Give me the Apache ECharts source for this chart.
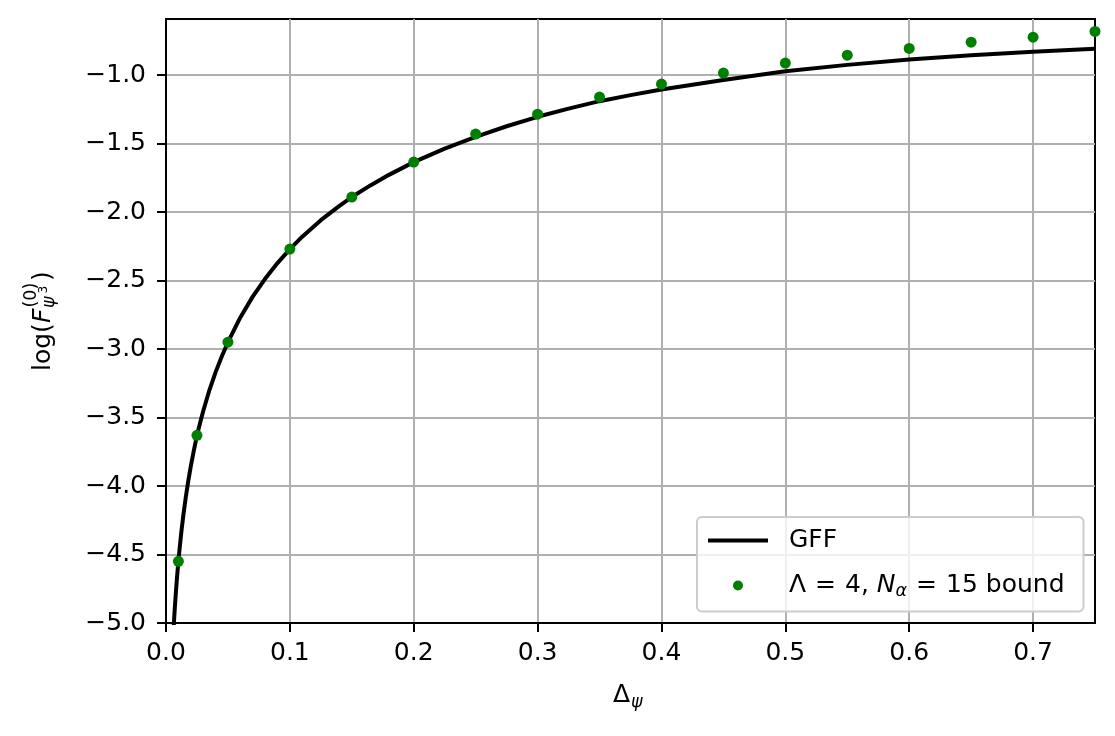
<!DOCTYPE html>
<html>
<head>
<meta charset="utf-8">
<script src="https://cdn.jsdelivr.net/npm/echarts@6/dist/echarts.min.js"></script>
<style>
html,body{margin:0;padding:0;background:#fff;}
#chart{width:1115px;height:736px;}
</style>
</head>
<body>
<div id="chart"></div>
<script>
// GFF curve
const gffX = [0.006,0.0065,0.007,0.008,0.009,0.01,0.011,0.0125,0.014,0.016,0.018,0.02,0.0225,0.025,0.0275,0.03,0.035,0.04,0.045,0.05,0.06,0.07,0.08,0.09,0.1,0.11,0.125,0.14,0.15,0.165,0.18,0.2,0.225,0.25,0.275,0.3,0.325,0.35,0.375,0.4,0.45,0.5,0.55,0.6,0.65,0.7,0.75];
const gffY = [-5.061,-4.981,-4.907,-4.773,-4.656,-4.55,-4.455,-4.327,-4.214,-4.08,-3.962,-3.857,-3.739,-3.63,-3.54,-3.454,-3.301,-3.17,-3.054,-2.95,-2.769,-2.617,-2.487,-2.372,-2.27,-2.179,-2.059,-1.954,-1.89,-1.805,-1.728,-1.635,-1.537,-1.45,-1.373,-1.304,-1.244,-1.19,-1.146,-1.105,-1.035,-0.972,-0.925,-0.885,-0.855,-0.83,-0.808];
// Lambda = 4, N_alpha = 15 bound points
const boundX = [0.01,0.025,0.05,0.1,0.15,0.2,0.25,0.3,0.35,0.4,0.45,0.5,0.55,0.6,0.65,0.7,0.75];
const boundY = [-4.55,-3.63,-2.95,-2.27,-1.89,-1.635,-1.43,-1.285,-1.16,-1.065,-0.985,-0.912,-0.854,-0.805,-0.759,-0.723,-0.681];
// tick labels
const xTicks = [0,0.1,0.2,0.3,0.4,0.5,0.6,0.7];
const yTicks = [-5,-4.5,-4,-3.5,-3,-2.5,-2,-1.5,-1];
const seriesNames = ['GFF','bound'];

const FONT = '"DejaVu Sans", "Noto Sans", sans-serif';
const fmtY = v => (v < 0 ? '\u2212' : '') + Math.abs(v).toFixed(1);

const chart = echarts.init(document.getElementById('chart'), null, {renderer:'canvas'});

function txt(x, y, text, size, italic) {
  return {
    type:'text', x:x, y:y, silent:true,
    style:{
      text:text,
      font:(italic ? 'italic ' : '') + size + 'px ' + FONT,
      fill:'#000',
      textAlign:'left', align:'left',
      textVerticalAlign:'middle', verticalAlign:'middle'
    }
  };
}

const option = {
  animation:false,
  backgroundColor:'#fff',
  textStyle:{fontFamily:FONT},
  grid:{left:166, right:20, top:19, bottom:113, show:true, borderColor:'#000', borderWidth:2, backgroundColor:'transparent', containLabel:false},
  xAxis:{
    type:'value', min:0, max:0.75, interval:0.1,
    axisLine:{show:true, lineStyle:{color:'#000', width:2}},
    axisTick:{show:true, length:9, inside:false, lineStyle:{color:'#000', width:2}, customValues:xTicks},
    axisLabel:{show:true, margin:18, color:'#000', fontSize:25, fontFamily:FONT, customValues:xTicks,
      formatter:v => v.toFixed(1)},
    splitLine:{show:true, lineStyle:{color:'#b0b0b0', width:2}}
  },
  yAxis:{
    type:'value', min:-5, max:-0.59, interval:0.5,
    axisLine:{show:true, onZero:false, lineStyle:{color:'#000', width:2}},
    axisTick:{show:true, length:9, inside:false, lineStyle:{color:'#000', width:2}, customValues:yTicks},
    axisLabel:{show:true, margin:20, color:'#000', fontSize:25, fontFamily:FONT, customValues:yTicks,
      formatter:fmtY},
    splitLine:{show:true, lineStyle:{color:'#b0b0b0', width:2}}
  },
  legend:{
    show:true, orient:'vertical', left:697, top:517,
    padding:[11,19,11,9], itemGap:20, itemWidth:60, itemHeight:10,
    backgroundColor:'rgba(255,255,255,0.8)', borderColor:'#cccccc', borderWidth:2, borderRadius:5,
    data:[
      {name:'GFF', lineStyle:{width:4, color:'#000'}, itemStyle:{color:'rgba(0,0,0,0)', borderWidth:0, opacity:0}},
      {name:'bound', icon:'circle'}
    ],
    formatter:function(name){
      if (name === 'GFF') return '{r|GFF}';
      return '{r|\u039B}{e|=}{r|4, }{i|N}{s|\u03B1}{e|=}{r|15 bound}';
    },
    textStyle:{
      color:'#000', fontSize:25, fontFamily:FONT, padding:[0,0,0,16],
      rich:{
        r:{fontSize:25, fontFamily:FONT, color:'#000', lineHeight:30, verticalAlign:'middle'},
        e:{fontSize:25, fontFamily:FONT, color:'#000', lineHeight:30, verticalAlign:'middle', padding:[0,9,0,9]},
        i:{fontSize:25, fontFamily:FONT, fontStyle:'italic', color:'#000', lineHeight:30, verticalAlign:'middle'},
        s:{fontSize:17.5, fontFamily:FONT, fontStyle:'italic', color:'#000', lineHeight:18, verticalAlign:'bottom'}
      }
    }
  },
  graphic:[
    {type:'group', x:43, y:321, rotation:Math.PI/2, silent:true, children:[
      txt(-50, 0, 'log(', 25, false),
      txt(-2.1, 0, 'F', 25, true),
      txt(13.5, -12, '(0)', 17.5, false),
      txt(13, 6, '\u03C8', 17.5, true),
      txt(27.5, 1, '3', 12.25, false),
      txt(40, 0, ')', 25, false)
    ]},
    txt(613, 695, '\u0394', 25, false),
    txt(631, 702, '\u03C8', 17.5, true)
  ],
  series:[
    {
      name:seriesNames[0], type:'line',
      data:gffX.map((x,i)=>[x, gffY[i]]),
      showSymbol:false, symbol:'none', smooth:false, clip:true,
      lineStyle:{color:'#000', width:4}, itemStyle:{color:'#000'}, z:3
    },
    {
      name:seriesNames[1], type:'scatter',
      data:boundX.map((x,i)=>[x, boundY[i]]),
      symbol:'circle', symbolSize:11, clip:true,
      itemStyle:{color:'#008000', opacity:1}, z:4
    }
  ]
};
chart.setOption(option);
</script>
</body>
</html>
